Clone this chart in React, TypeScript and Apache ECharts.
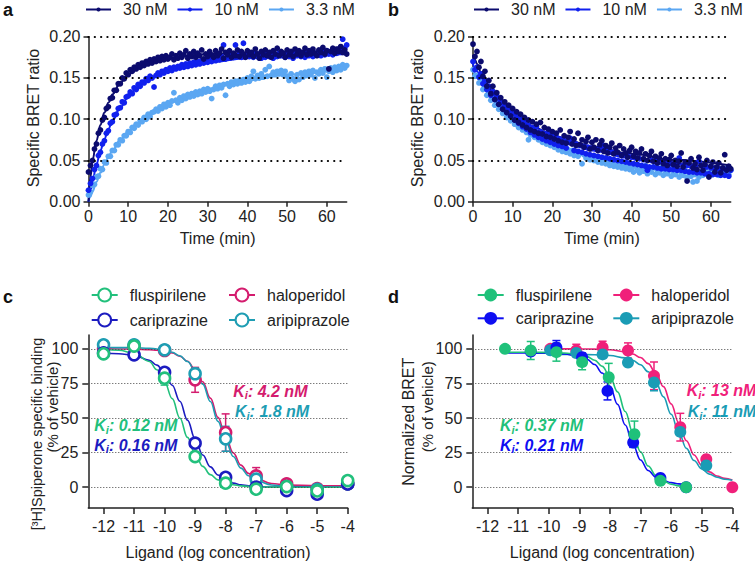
import React, { useEffect, useRef } from 'react';
import * as echarts from 'echarts';

const FONT = '"Liberation Sans", Arial, Helvetica, sans-serif';
const TXT = '#222';

// ---------- panel a / b : kinetic BRET (sampling every 0.5 min) ----------
const T_STEP = 0.5;
const X_TICKS_AB = [0, 10, 20, 30, 40, 50, 60];
const Y_GRID_AB = [0.05, 0.1, 0.15, 0.2];
const SERIES_AB = ['30 nM', '10 nM', '3.3 nM'];

const A_30 = [0.036,0.044,0.050,0.064,0.070,0.083,0.087,0.099,0.102,0.113,
 0.115,0.125,0.126,0.135,0.135,0.143,0.143,0.150,0.149,0.156,
 0.154,0.160,0.158,0.163,0.161,0.166,0.163,0.168,0.165,0.170,
 0.167,0.172,0.168,0.173,0.170,0.175,0.171,0.176,0.172,0.177,
 0.173,0.175,0.179,0.172,0.177,0.174,0.180,0.175,0.178,0.183,
 0.174,0.179,0.176,0.182,0.175,0.180,0.177,0.184,0.173,0.179,
 0.176,0.182,0.178,0.175,0.183,0.177,0.180,0.185,0.174,0.181,
 0.178,0.183,0.175,0.180,0.177,0.184,0.176,0.182,0.179,0.175,
 0.183,0.178,0.181,0.176,0.185,0.179,0.174,0.182,0.178,0.184,
 0.177,0.181,0.175,0.183,0.179,0.186,0.177,0.182,0.180,0.175,
 0.184,0.178,0.182,0.176,0.185,0.179,0.183,0.177,0.181,0.186,
 0.178,0.183,0.179,0.185,0.180,0.177,0.184,0.181,0.187,0.179,
 0.183,0.161,0.182,0.186,0.180,0.185,0.182,0.188,0.181,0.184,
 0.179];
const A_10 = [0.014,0.022,0.028,0.039,0.044,0.056,0.060,0.070,0.074,0.083,
 0.086,0.095,0.097,0.105,0.106,0.113,0.114,0.121,0.120,0.127,
 0.128,0.133,0.131,0.138,0.136,0.142,0.140,0.145,0.144,0.149,
 0.147,0.152,0.150,0.139,0.153,0.156,0.154,0.158,0.156,0.160,
 0.158,0.162,0.159,0.163,0.161,0.164,0.162,0.166,0.163,0.167,
 0.164,0.168,0.165,0.169,0.166,0.170,0.167,0.171,0.168,0.172,
 0.169,0.173,0.170,0.174,0.171,0.175,0.172,0.176,0.190,0.173,
 0.177,0.174,0.178,0.175,0.190,0.176,0.179,0.175,0.192,0.177,
 0.180,0.176,0.179,0.175,0.180,0.176,0.179,0.174,0.178,0.175,
 0.180,0.176,0.179,0.174,0.178,0.176,0.180,0.177,0.179,0.175,
 0.181,0.176,0.179,0.174,0.180,0.177,0.181,0.176,0.179,0.175,
 0.180,0.177,0.182,0.176,0.180,0.178,0.182,0.177,0.181,0.178,
 0.183,0.179,0.182,0.178,0.184,0.180,0.185,0.182,0.197,0.186,
 0.190];
const A_33 = [0.008,0.012,0.020,0.021,0.030,0.031,0.040,0.039,0.048,0.047,
 0.055,0.055,0.062,0.062,0.069,0.069,0.075,0.074,0.080,0.080,
 0.085,0.084,0.090,0.089,0.094,0.093,0.098,0.097,0.102,0.100,
 0.106,0.103,0.108,0.109,0.112,0.110,0.115,0.113,0.118,0.115,
 0.120,0.117,0.122,0.132,0.123,0.120,0.126,0.123,0.128,0.125,
 0.130,0.127,0.131,0.128,0.133,0.130,0.134,0.131,0.136,0.133,
 0.137,0.134,0.125,0.136,0.140,0.137,0.141,0.138,0.142,0.129,
 0.143,0.140,0.145,0.142,0.146,0.143,0.147,0.144,0.148,0.145,
 0.150,0.146,0.152,0.158,0.149,0.153,0.150,0.155,0.151,0.160,
 0.152,0.164,0.153,0.157,0.154,0.158,0.155,0.159,0.154,0.158,
 0.152,0.147,0.155,0.149,0.146,0.154,0.148,0.156,0.151,0.157,
 0.153,0.158,0.154,0.159,0.150,0.157,0.155,0.160,0.156,0.161,
 0.151,0.158,0.162,0.157,0.163,0.159,0.164,0.160,0.166,0.162,
 0.165];

const B_30 = [0.191,0.176,0.182,0.163,0.170,0.152,0.158,0.140,0.147,0.131,
 0.140,0.124,0.132,0.118,0.126,0.112,0.121,0.108,0.117,0.104,
 0.113,0.099,0.109,0.096,0.106,0.093,0.102,0.090,0.099,0.087,
 0.097,0.085,0.094,0.083,0.096,0.082,0.090,0.079,0.088,0.078,
 0.085,0.076,0.083,0.074,0.087,0.072,0.080,0.071,0.078,0.085,
 0.070,0.076,0.068,0.083,0.069,0.075,0.066,0.073,0.078,0.064,
 0.072,0.066,0.075,0.062,0.069,0.074,0.061,0.068,0.059,0.066,
 0.071,0.058,0.065,0.060,0.068,0.056,0.064,0.059,0.054,0.062,
 0.066,0.055,0.061,0.053,0.059,0.064,0.052,0.058,0.050,0.056,
 0.061,0.049,0.055,0.047,0.053,0.058,0.046,0.052,0.044,0.051,
 0.056,0.045,0.050,0.043,0.049,0.059,0.042,0.048,0.025,0.047,
 0.052,0.041,0.046,0.039,0.054,0.044,0.038,0.045,0.050,0.030,
 0.043,0.048,0.036,0.042,0.047,0.035,0.041,0.057,0.038,0.043,
 0.040];
const B_10 = [0.170,0.160,0.163,0.151,0.155,0.143,0.147,0.136,0.140,0.129,
 0.134,0.124,0.128,0.118,0.122,0.113,0.117,0.108,0.112,0.104,
 0.108,0.099,0.104,0.095,0.100,0.091,0.096,0.088,0.093,0.084,
 0.090,0.081,0.091,0.078,0.085,0.076,0.083,0.074,0.084,0.072,
 0.079,0.070,0.078,0.068,0.076,0.067,0.074,0.065,0.072,0.077,
 0.071,0.062,0.070,0.061,0.068,0.060,0.067,0.058,0.066,0.057,
 0.065,0.056,0.064,0.055,0.063,0.054,0.068,0.053,0.061,0.052,
 0.060,0.051,0.058,0.050,0.057,0.049,0.056,0.048,0.055,0.047,
 0.054,0.046,0.053,0.045,0.052,0.044,0.051,0.043,0.038,0.042,
 0.050,0.042,0.049,0.041,0.048,0.040,0.047,0.040,0.046,0.039,
 0.046,0.039,0.045,0.038,0.053,0.038,0.044,0.037,0.044,0.036,
 0.043,0.036,0.043,0.035,0.049,0.035,0.042,0.034,0.042,0.034,
 0.041,0.033,0.041,0.033,0.040,0.032,0.040,0.032,0.039,0.031,
 0.038];
const B_33 = [0.160,0.152,0.153,0.144,0.145,0.136,0.138,0.129,0.131,0.123,
 0.125,0.117,0.119,0.112,0.114,0.107,0.110,0.102,0.105,0.098,
 0.101,0.094,0.097,0.090,0.093,0.087,0.090,0.084,0.075,0.081,
 0.084,0.078,0.081,0.075,0.078,0.072,0.076,0.070,0.073,0.068,
 0.071,0.066,0.069,0.063,0.067,0.061,0.065,0.060,0.063,0.058,
 0.062,0.056,0.060,0.055,0.059,0.046,0.057,0.053,0.056,0.051,
 0.055,0.050,0.053,0.048,0.052,0.047,0.050,0.046,0.049,0.044,
 0.048,0.043,0.047,0.042,0.046,0.041,0.045,0.040,0.044,0.039,
 0.040,0.036,0.043,0.038,0.035,0.041,0.037,0.044,0.034,0.039,
 0.036,0.042,0.033,0.038,0.035,0.041,0.032,0.037,0.034,0.040,
 0.031,0.036,0.033,0.039,0.030,0.035,0.032,0.038,0.029,0.034,
 0.031,0.024,0.033,0.025,0.030,0.036,0.032,0.038,0.034,0.031,
 0.037,0.033,0.039,0.035,0.032,0.038,0.034,0.040,0.036,0.033,
 0.038];

// fitted curves (read at these times)
const FIT_T = [0, 0.5, 1, 2, 3, 4, 5, 6, 8, 10, 12, 15, 20, 25, 30, 40, 50, 65];
const FA_30 = [0, 0.03, 0.05, 0.074, 0.093, 0.108, 0.12, 0.13, 0.144, 0.154, 0.161, 0.168, 0.174, 0.177, 0.179, 0.18, 0.181, 0.182];
const FA_10 = [0, 0.012, 0.024, 0.045, 0.062, 0.076, 0.088, 0.098, 0.114, 0.127, 0.137, 0.148, 0.159, 0.165, 0.169, 0.174, 0.177, 0.179];
const FA_33 = [0, 0.006, 0.012, 0.024, 0.035, 0.045, 0.054, 0.062, 0.075, 0.085, 0.094, 0.105, 0.119, 0.129, 0.137, 0.147, 0.154, 0.162];
const FB_30 = [0.178, 0.172, 0.167, 0.157, 0.148, 0.14, 0.133, 0.127, 0.116, 0.107, 0.1, 0.091, 0.081, 0.073, 0.067, 0.058, 0.051, 0.044];
const FB_10 = [0.167, 0.162, 0.158, 0.15, 0.143, 0.136, 0.13, 0.124, 0.114, 0.105, 0.097, 0.088, 0.077, 0.069, 0.062, 0.053, 0.046, 0.038];
const FB_33 = [0.16, 0.155, 0.151, 0.143, 0.136, 0.129, 0.123, 0.117, 0.107, 0.099, 0.091, 0.082, 0.069, 0.06, 0.053, 0.043, 0.037, 0.035];

const COL_AB = ['#0b0b6e', '#1020ee', '#5ba7f2'];

// ---------- panel c : [3H]spiperone binding ----------
const X_TICKS_CD = [-12, -11, -10, -9, -8, -7, -6, -5, -4];
const Y_TICKS_CD = [0, 25, 50, 75, 100];
const DRUGS = ['fluspirilene', 'haloperidol', 'cariprazine', 'aripiprazole'];

const X_C = [-12, -11, -10, -9, -8, -7, -6, -5, -4];
const FLU_C = [96.4, 102, 78.8, 22.2, 2.9, -1.4, 0.5, -2.7, 4.8];
const FLU_C_ERR = [1, 1, 5, 3, 1, 1, 1, 1, 1];
const CAR_C = [97, 95.7, 83, 31.8, 7.2, 0, -2.4, -5, 2.4];
const CAR_C_ERR = [1, 3, 2, 2, 1, 1, 1, 1, 1];
const HAL_C = [100, 101.7, 98.8, 77.6, 39.5, 8.2, 2.4, -1, 2.4];
const HAL_C_ERR = [1, 1, 1, 9, 13.5, 6, 1, 1, 1];
const ARI_C = [102.9, 102.9, 99.3, 82, 35, 5.8, 0.5, -1.5, 2.4];
const ARI_C_ERR = [1, 1, 1, 4, 9, 3, 1, 1, 1];

const CX_C = [-12, -11.5, -11, -10.5, -10.25, -10, -9.75, -9.5, -9.25, -9, -8.75, -8.5, -8.25, -8, -7.75, -7.5, -7.25, -7, -6.5, -6, -5, -4];
const FIT_FLU_C = [99.7, 99.0, 96.9, 90.9, 84.9, 76.0, 64.0, 50.0, 36.0, 24.0, 15.1, 9.1, 5.3, 3.1, 1.8, 1.0, 0.6, 0.3, 0.1, 0, 0, 0];
const FIT_CAR_C = [96.8, 96.5, 95.3, 91.8, 88.2, 82.3, 73.7, 62.1, 48.5, 34.9, 23.3, 14.7, 8.8, 5.2, 3.0, 1.7, 1.0, 0.5, 0.2, 0.1, 0, 0];
const FIT_HAL_C = [100, 99.9, 99.8, 99.4, 99.0, 98.3, 97.0, 94.7, 91.0, 85.0, 76.2, 64.4, 50.5, 36.6, 24.8, 16.0, 10.0, 6.3, 2.7, 1.6, 1.1, 1.0];
const FIT_ARI_C = [101, 100.9, 100.8, 100.4, 99.9, 99.0, 97.5, 95.0, 90.8, 84.2, 74.5, 61.9, 47.6, 33.7, 22.2, 13.8, 8.3, 4.8, 1.6, 0.5, 0.1, 0];

const COL_C = { fluspirilene: '#22c07c', cariprazine: '#1c1cc0', haloperidol: '#d41c6e', aripiprazole: '#1e9db3' };

// ---------- panel d : normalized BRET ----------
const FLU_D_X = [-11.43, -10.59, -9.75, -8.91, -8.04, -7.2, -6.35, -5.51];
const FLU_D = [100, 98.8, 97.6, 90.4, 79.5, 38.3, 4.6, 0];
const FLU_D_ERR = [1, 6.5, 6.5, 5.5, 10, 9.5, 1, 1];
const CAR_D_X = [-10.59, -9.75, -8.91, -8.08, -7.24, -6.35, -5.51];
const CAR_D = [98, 101, 94, 69.6, 32.3, 6.7, 0];
const CAR_D_ERR = [2, 5, 3, 6.5, 3.5, 1, 1];
const HAL_D_X = [-9.95, -9.1, -8.24, -7.41, -6.56, -5.7, -4.85, -4.0];
const HAL_D = [100, 98.8, 101, 98.8, 80.5, 43.4, 20.2, 0];
const HAL_D_ERR = [1, 4.5, 4.5, 5.5, 10, 10, 1, 1];
const ARI_D_X = [-9.95, -9.1, -8.24, -7.41, -6.56, -5.7, -4.85];
const ARI_D = [99, 97, 96, 90.1, 75.7, 40, 15.7];
const ARI_D_ERR = [1, 1, 1, 1, 6, 1, 1];

const CX_D1 = [-11.43, -11, -10.5, -10, -9.5, -9, -8.75, -8.5, -8.25, -8, -7.75, -7.5, -7.25, -7, -6.75, -6.5, -6.25, -6, -5.75, -5.5];
const FIT_FLU_D = [97.5, 97.5, 97.5, 97.4, 97.0, 95.8, 94.4, 91.8, 87.3, 79.9, 68.9, 54.7, 39.3, 25.6, 15.3, 8.6, 4.6, 2.2, 1.0, 0.3];
const FIT_CAR_D = [97.0, 97.0, 96.9, 96.8, 96.3, 94.5, 92.4, 88.7, 82.5, 72.9, 59.9, 45.0, 30.9, 19.7, 12.1, 7.5, 4.8, 3.3, 2.4, 2.0];
const CX_D2 = [-10, -9.5, -9, -8.5, -8, -7.5, -7.25, -7, -6.75, -6.5, -6.25, -6, -5.75, -5.5, -5.25, -5, -4.75, -4.5, -4.25, -4];
const FIT_HAL_D = [100, 100, 99.9, 99.8, 99.3, 97.9, 96.3, 93.7, 89.3, 82.4, 72.7, 60.2, 46.5, 33.6, 23.3, 15.9, 11.1, 8.1, 6.4, 5.3];
const FIT_ARI_D = [96.0, 96.0, 95.9, 95.7, 95.2, 93.5, 91.6, 88.5, 83.4, 75.8, 65.3, 52.7, 39.6, 28.1, 19.3, 13.3, 9.5, 7.2, 5.8, 5.0];

const COL_D = { fluspirilene: '#1fc17a', cariprazine: '#0e0ef2', haloperidol: '#f0207a', aripiprazole: '#1a9cb5' };

const KI_C = [
  { text: '4.2 nM', drug: 'haloperidol' },
  { text: '1.8 nM', drug: 'aripiprazole' },
  { text: '0.12 nM', drug: 'fluspirilene' },
  { text: '0.16 nM', drug: 'cariprazine' },
];
const KI_D = [
  { text: '13 nM', drug: 'haloperidol' },
  { text: '11 nM', drug: 'aripiprazole' },
  { text: '0.37 nM', drug: 'fluspirilene' },
  { text: '0.21 nM', drug: 'cariprazine' },
];

// ---------------------------------------------------------------------
const axisLineStyle = { color: TXT, width: 1.5 };
const labelStyle = { fontSize: 16, fontFamily: FONT, color: TXT };

const zip = (xs: number[], ys: number[]) => ys.map((y, i) => [xs[i], y]);
const timed = (vals: number[]) => vals.map((v, i) => [i * T_STEP, v]);
const withErr = (xs: number[], ys: number[], es: number[]) => ys.map((y, i) => [xs[i], y, es[i]]);

function xAxisAB(gi: number) {
  return {
    type: 'value', gridIndex: gi, min: 0, max: 65,
    axisLine: { show: true, onZero: false, lineStyle: axisLineStyle },
    axisTick: { show: true, customValues: X_TICKS_AB, length: 5, lineStyle: axisLineStyle },
    axisLabel: { customValues: X_TICKS_AB, margin: 7, ...labelStyle },
    splitLine: { show: false },
    name: 'Time (min)', nameLocation: 'middle', nameGap: 29, nameTextStyle: labelStyle,
  };
}
function yAxisAB(gi: number) {
  return {
    type: 'value', gridIndex: gi, min: 0, max: 0.2, interval: 0.05,
    axisLine: { show: true, onZero: false, lineStyle: axisLineStyle },
    axisTick: { show: true, length: 5, lineStyle: axisLineStyle },
    axisLabel: { formatter: (v: number) => v.toFixed(2), margin: 8, ...labelStyle },
    splitLine: { show: false },
  };
}
function xAxisCD(gi: number) {
  return {
    type: 'value', gridIndex: gi, min: -12.5, max: -4,
    axisLine: { show: true, onZero: false, lineStyle: axisLineStyle },
    axisTick: { show: true, customValues: X_TICKS_CD, length: 6, lineStyle: axisLineStyle },
    axisLabel: { customValues: X_TICKS_CD, margin: 10, ...labelStyle },
    splitLine: { show: false },
    name: 'Ligand (log concentration)', nameLocation: 'middle', nameGap: 36, nameTextStyle: labelStyle,
  };
}
function yAxisCD(gi: number) {
  return {
    type: 'value', gridIndex: gi, min: -15, max: 110,
    axisLine: { show: true, onZero: false, lineStyle: axisLineStyle },
    axisTick: { show: true, customValues: Y_TICKS_CD, length: 6, lineStyle: axisLineStyle },
    axisLabel: { customValues: Y_TICKS_CD, margin: 10, ...labelStyle },
    splitLine: { show: false },
  };
}

function gridMarkLine(values: number[], style: any) {
  return {
    silent: true, symbol: ['none', 'none'], label: { show: false },
    lineStyle: style, emphasis: { disabled: true },
    data: values.map((v) => ({ yAxis: v })),
  };
}

function kineticSeries(p: string, gi: number, pts: number[][], fits: number[][]) {
  const out: any[] = [];
  [2, 1, 0].forEach((k) => {
    out.push({
      type: 'line', name: `${p}:${SERIES_AB[k]}`, xAxisIndex: gi, yAxisIndex: gi,
      data: zip(FIT_T, fits[k]), smooth: 0.4, smoothMonotone: 'x', symbol: 'circle', showSymbol: false,
      lineStyle: { color: COL_AB[k], width: 2 }, itemStyle: { color: COL_AB[k] }, z: 2,
    });
  });
  // light blue first so navy sits on top
  [2, 1, 0].forEach((k, j) => {
    out.push({
      type: 'scatter', name: `${p}:${SERIES_AB[k]} data`, xAxisIndex: gi, yAxisIndex: gi,
      data: timed(pts[k]), symbol: 'circle', symbolSize: 5.8,
      itemStyle: { color: COL_AB[k], opacity: 1 }, z: 3,
      markLine: j === 0 ? gridMarkLine(Y_GRID_AB, { color: '#000', width: 2.2, type: [0.1, 6.2], cap: 'round' }) : undefined,
    });
  });
  return out;
}

function errSeries(name: string, gi: number, data: number[][], color: string) {
  return {
    type: 'custom', name, xAxisIndex: gi, yAxisIndex: gi, data, encode: { x: 0, y: 1 }, z: 3, clip: false,
    renderItem: (_p: any, api: any) => {
      const x = api.value(0), y = api.value(1), e = api.value(2);
      if (e < 2) return { type: 'group', children: [] };
      const a = api.coord([x, y + e]);
      const b = api.coord([x, y - e]);
      const w = 4;
      const st = { stroke: color, lineWidth: 1.5, fill: 'none' };
      return {
        type: 'group',
        children: [
          { type: 'line', shape: { x1: a[0], y1: a[1], x2: b[0], y2: b[1] }, style: st },
          { type: 'line', shape: { x1: a[0] - w, y1: a[1], x2: a[0] + w, y2: a[1] }, style: st },
          { type: 'line', shape: { x1: b[0] - w, y1: b[1], x2: b[0] + w, y2: b[1] }, style: st },
        ],
      };
    },
  };
}

function kiText(x: number, y: number, value: string, color: string) {
  const base = { fontWeight: 'bold', fontStyle: 'italic', fontFamily: FONT, fill: color };
  return {
    type: 'text', x, y, z: 10,
    style: {
      text: `{k|K}{s|i}{k|: ${value}}`, align: 'left', verticalAlign: 'middle', fill: color,
      rich: { k: { ...base, fontSize: 16 }, s: { ...base, fontSize: 11, padding: [8, 0, 0, 0] } },
    },
  };
}

function vText(x: number, y: number, text: string, size = 16) {
  return {
    type: 'text', x, y, rotation: Math.PI / 2,
    style: { text, align: 'center', verticalAlign: 'middle', fontSize: size, fontFamily: FONT, fill: TXT },
  };
}
function panelLetter(x: number, y: number, text: string) {
  return {
    type: 'text', x, y,
    style: { text, align: 'left', verticalAlign: 'middle', fontSize: 18, fontWeight: 'bold', fontFamily: FONT, fill: '#111' },
  };
}

const legendBase = {
  padding: 0, selectedMode: false,
  textStyle: { fontSize: 16, fontFamily: FONT, color: TXT, padding: [0, 0, 0, 7] },
  formatter: (n: string) => n.slice(2),
};

export default function App() {
  const ref = useRef<HTMLDivElement>(null);
  useEffect(() => {
    if (!ref.current) return;
    const chart = echarts.init(ref.current, undefined, { renderer: 'svg' });

    const series: any[] = [];
    series.push(...kineticSeries('a', 0, [A_30, A_10, A_33], [FA_30, FA_10, FA_33]));
    series.push(...kineticSeries('b', 1, [B_30, B_10, B_33], [FB_30, FB_10, FB_33]));

    // panel c
    const cSets: Record<string, { y: number[]; e: number[]; fit: number[] }> = {
      haloperidol: { y: HAL_C, e: HAL_C_ERR, fit: FIT_HAL_C },
      aripiprazole: { y: ARI_C, e: ARI_C_ERR, fit: FIT_ARI_C },
      cariprazine: { y: CAR_C, e: CAR_C_ERR, fit: FIT_CAR_C },
      fluspirilene: { y: FLU_C, e: FLU_C_ERR, fit: FIT_FLU_C },
    };
    const cOrder = ['haloperidol', 'aripiprazole', 'cariprazine', 'fluspirilene'];
    cOrder.forEach((d, i) => {
      const col = (COL_C as any)[d];
      const s = cSets[d];
      series.push({
        type: 'line', name: `c:${d}`, xAxisIndex: 2, yAxisIndex: 2, data: zip(CX_C, s.fit),
        smooth: 0.4, smoothMonotone: 'x', symbol: 'emptyCircle', showSymbol: false,
        lineStyle: { color: col, width: 1.6 }, itemStyle: { color: col }, z: 2,
        markLine: i === 0 ? gridMarkLine(Y_TICKS_CD, { color: '#444', width: 1, type: [1, 2] }) : undefined,
      });
    });
    cOrder.forEach((d) => {
      const col = (COL_C as any)[d];
      series.push(errSeries(`c:${d} err`, 2, withErr(X_C, cSets[d].y, cSets[d].e), col));
    });
    cOrder.forEach((d) => {
      const col = (COL_C as any)[d];
      series.push({
        type: 'scatter', name: `c:${d} data`, xAxisIndex: 2, yAxisIndex: 2, data: zip(X_C, cSets[d].y),
        symbol: 'circle', symbolSize: 11, z: 5,
        itemStyle: { color: '#fff', borderColor: col, borderWidth: 2.6, opacity: 1 },
      });
    });

    // panel d
    const dSets: Record<string, { x: number[]; y: number[]; e: number[]; cx: number[]; fit: number[] }> = {
      haloperidol: { x: HAL_D_X, y: HAL_D, e: HAL_D_ERR, cx: CX_D2, fit: FIT_HAL_D },
      aripiprazole: { x: ARI_D_X, y: ARI_D, e: ARI_D_ERR, cx: CX_D2, fit: FIT_ARI_D },
      cariprazine: { x: CAR_D_X, y: CAR_D, e: CAR_D_ERR, cx: CX_D1, fit: FIT_CAR_D },
      fluspirilene: { x: FLU_D_X, y: FLU_D, e: FLU_D_ERR, cx: CX_D1, fit: FIT_FLU_D },
    };
    cOrder.forEach((d, i) => {
      const col = (COL_D as any)[d];
      const s = dSets[d];
      series.push({
        type: 'line', name: `d:${d}`, xAxisIndex: 3, yAxisIndex: 3, data: zip(s.cx, s.fit),
        smooth: 0.4, smoothMonotone: 'x', symbol: 'circle', showSymbol: false,
        lineStyle: { color: col, width: 1.6 }, itemStyle: { color: col }, z: 2,
        markLine: i === 0 ? gridMarkLine(Y_TICKS_CD, { color: '#444', width: 1, type: [1, 2] }) : undefined,
      });
    });
    cOrder.forEach((d) => {
      const col = (COL_D as any)[d];
      const s = dSets[d];
      series.push(errSeries(`d:${d} err`, 3, withErr(s.x, s.y, s.e), col));
    });
    cOrder.forEach((d) => {
      const col = (COL_D as any)[d];
      const s = dSets[d];
      series.push({
        type: 'scatter', name: `d:${d} data`, xAxisIndex: 3, yAxisIndex: 3, data: zip(s.x, s.y),
        symbol: 'circle', symbolSize: 12, z: 5, itemStyle: { color: col, opacity: 1 },
      });
    });

    const legends: any[] = [
      { ...legendBase, data: SERIES_AB.map((n) => `a:${n}`), left: 85, top: 1.5, itemWidth: 25, itemHeight: 5, itemGap: 9 },
      { ...legendBase, data: SERIES_AB.map((n) => `b:${n}`), left: 473, top: 1.5, itemWidth: 25, itemHeight: 5, itemGap: 9 },
    ];
    const cLeg = [[90.7, 287], [228, 287], [90.7, 312], [228, 312]];
    const dLeg = [[476.7, 287], [612.3, 287], [476.7, 310.3], [612.3, 310.3]];
    DRUGS.forEach((d, i) => {
      legends.push({ ...legendBase, data: [`c:${d}`], left: cLeg[i][0], top: cLeg[i][1], itemWidth: 26, itemHeight: 16 });
      legends.push({ ...legendBase, data: [`d:${d}`], left: dLeg[i][0], top: dLeg[i][1], itemWidth: 26, itemHeight: 16 });
    });

    const kiPosC = [[233.3, 391], [235, 411.7], [94.3, 425.7], [94.3, 445]];
    const kiPosD = [[686.7, 390.7], [687.7, 411.7], [500, 425.7], [500, 445]];

    const graphic: any[] = [
      panelLetter(3, 10, 'a'),
      panelLetter(388, 10, 'b'),
      panelLetter(3, 297, 'c'),
      panelLetter(388, 297, 'd'),
      vText(33, 118, 'Specific BRET ratio'),
      vText(417.3, 118, 'Specific BRET ratio'),
      vText(37, 434, '[³H]Spiperone specific binding', 14.5),
      vText(52, 407, '(% of vehicle)', 15),
      vText(408.3, 421.7, 'Normalized BRET'),
      vText(427.3, 406.7, '(% of vehicle)', 15),
      ...KI_C.map((k, i) => kiText(kiPosC[i][0], kiPosC[i][1], k.text, (COL_C as any)[k.drug])),
      ...KI_D.map((k, i) => kiText(kiPosD[i][0], kiPosD[i][1], k.text, (COL_D as any)[k.drug])),
    ];

    chart.setOption({
      animation: false,
      backgroundColor: '#fff',
      textStyle: { fontFamily: FONT },
      grid: [
        { left: 88.5, top: 36.7, width: 258.2, height: 165 },
        { left: 473, top: 36.7, width: 257.7, height: 165 },
        { left: 88.3, top: 335, width: 259.4, height: 173 },
        { left: 472.3, top: 335, width: 260, height: 173 },
      ],
      xAxis: [xAxisAB(0), xAxisAB(1), xAxisCD(2), xAxisCD(3)],
      yAxis: [yAxisAB(0), yAxisAB(1), yAxisCD(2), yAxisCD(3)],
      legend: legends,
      graphic,
      series,
    });
    return () => chart.dispose();
  }, []);
  return <div ref={ref} style={{ position: 'fixed', left: 0, top: 0, width: 755, height: 561, background: '#fff' }} />;
}
